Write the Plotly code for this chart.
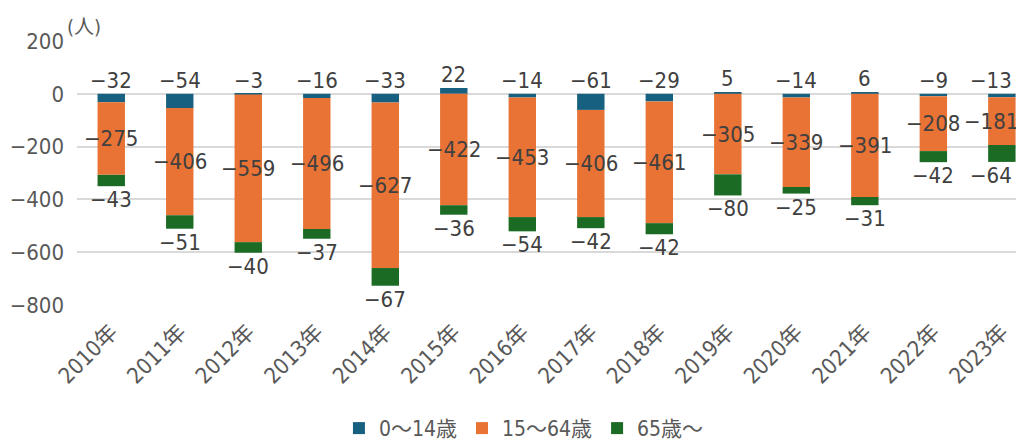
import plotly.graph_objects as go

years = ["2010年", "2011年", "2012年", "2013年", "2014年", "2015年", "2016年",
         "2017年", "2018年", "2019年", "2020年", "2021年", "2022年", "2023年"]
age_0_14 = [-32, -54, -3, -16, -33, 22, -14, -61, -29, 5, -14, 6, -9, -13]
age_15_64 = [-275, -406, -559, -496, -627, -422, -453, -406, -461, -305, -339, -391, -208, -181]
age_65 = [-43, -51, -40, -37, -67, -36, -54, -42, -42, -80, -25, -31, -42, -64]

FONT = "DejaVu Sans Condensed, Noto Sans CJK JP, sans-serif"
TXT = "#404040"
AX = "#595959"
C_BLUE, C_ORANGE, C_GREEN = "#17607f", "#e87334", "#1b6b25"

fig = go.Figure()
for name, vals, col in [("0～14歳", age_0_14, C_BLUE),
                        ("15～64歳", age_15_64, C_ORANGE),
                        ("65歳～", age_65, C_GREEN)]:
    fig.add_trace(go.Bar(x=years, y=vals, name=name, marker_color=col,
                         marker_line_width=0, width=0.4))

# label positions derived from the stacked values
top = [max(b, 0) for b in age_0_14]
mid = [min(b, 0) + o / 2 for b, o in zip(age_0_14, age_15_64)]
bottom = [min(b, 0) + o + g for b, o, g in zip(age_0_14, age_15_64, age_65)]

labels = []
for ys, vals, anchor in [(top, age_0_14, "bottom"),
                         (mid, age_15_64, "middle"),
                         (bottom, age_65, "top")]:
    for i, (yr, y, v) in enumerate(zip(years, ys, vals)):
        last = i == len(years) - 1  # right edge of the page cuts the last column
        labels.append(dict(x=yr, y=y, text=str(v).replace("-", "−"),
                           showarrow=False, yanchor=anchor, xanchor="center",
                           xshift=-11 if last else 0, borderpad=0,
                           font=dict(family=FONT, size=22, color=TXT)))

labels.append(dict(text="(人)", xref="paper", yref="paper", x=-0.013, y=1.0,
                   xanchor="left", yanchor="bottom", showarrow=False,
                   font=dict(family=FONT, size=20, color=AX)))

fig.update_layout(
    barmode="relative",
    width=1024, height=441,
    margin=dict(l=69, r=0, t=33, b=139),
    paper_bgcolor="white", plot_bgcolor="white",
    font=dict(family=FONT, size=22, color=AX),
    xaxis=dict(range=[-0.5, 13.44], tickangle=-45, showgrid=False,
               tickfont=dict(size=22), ticks="", automargin=False,
               ticklabelstandoff=9),
    yaxis=dict(range=[-800, 200], dtick=200, gridcolor="#d9d9d9", gridwidth=2,
               zeroline=True, zerolinecolor="#d9d9d9", zerolinewidth=2,
               tickfont=dict(size=22), ticks="", ticklen=0, automargin=False,
               ticklabelstandoff=12, tickformat="d"),
    legend=dict(orientation="h", x=0.468, xanchor="center", y=-0.39, yanchor="top",
                font=dict(size=21), traceorder="normal", itemwidth=30),
    annotations=labels,
)

fig.write_html("out.html")
